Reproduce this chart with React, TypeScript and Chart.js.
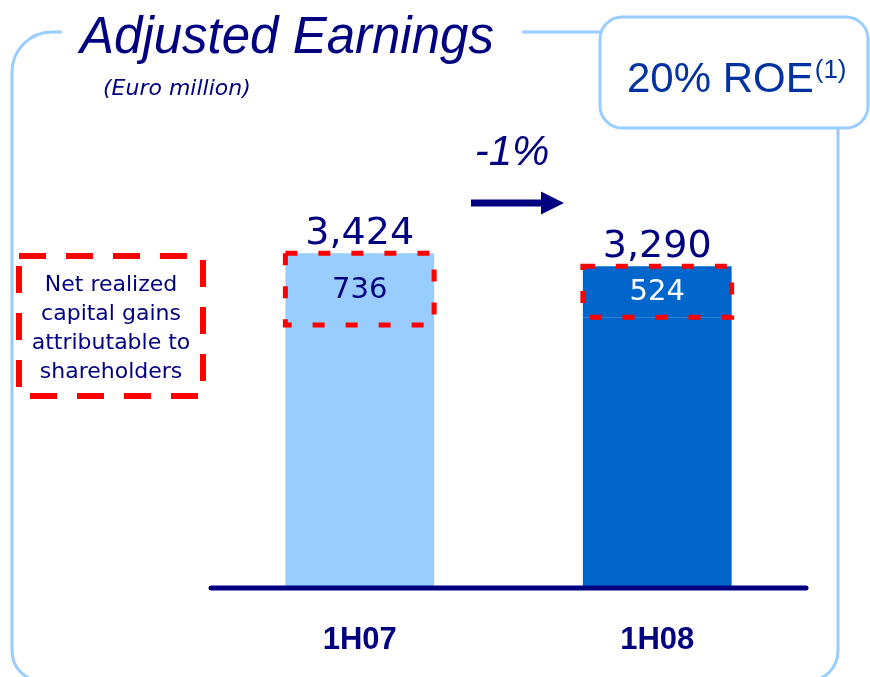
import React, { useEffect, useRef } from "react";
import { Chart, registerables } from "chart.js";

Chart.register(...registerables);

const categories = ["1H07", "1H08"];
const totals = [3424, 3290];
const capitalGains = [736, 524];
const coreEarnings = totals.map((t, i) => t - capitalGains[i]);
const barColors = ["#99ccff", "#0066cc"];
const gainLabelColors = ["#000080", "#ffffff"];
const totalLabels = ["3,424", "3,290"];
const gainLabels = ["736", "524"];
const titleText = "Adjusted Earnings";
const subtitleText = "(Euro million)";
const changeText = "-1%";
const roeText = "20% ROE";
const roeNote = "(1)";
const legendLines = ["Net realized", "capital gains", "attributable to", "shareholders"];

const NAVY = "#000080";
const LIGHT = "#99ccff";
const RED = "#ff0000";

function roundRect(ctx: CanvasRenderingContext2D, x: number, y: number, w: number, h: number, r: number) {
  ctx.beginPath();
  ctx.moveTo(x + r, y);
  ctx.lineTo(x + w - r, y);
  ctx.arcTo(x + w, y, x + w, y + r, r);
  ctx.lineTo(x + w, y + h - r);
  ctx.arcTo(x + w, y + h, x + w - r, y + h, r);
  ctx.lineTo(x + r, y + h);
  ctx.arcTo(x, y + h, x, y + h - r, r);
  ctx.lineTo(x, y + r);
  ctx.arcTo(x, y, x + r, y, r);
  ctx.closePath();
}

const decoPlugin = {
  id: "deco",
  beforeDraw(chart: any) {
    const ctx: CanvasRenderingContext2D = chart.ctx;
    ctx.save();
    ctx.fillStyle = "#ffffff";
    ctx.fillRect(0, 0, chart.width, chart.height);

    // outer frame
    ctx.strokeStyle = LIGHT;
    ctx.lineWidth = 3;
    const L = 12, T = 32, R = 838, B = 681, r = 40, rb = 30;
    ctx.beginPath();
    ctx.moveTo(62, T);
    ctx.lineTo(L + r, T);
    ctx.arcTo(L, T, L, T + r, r);
    ctx.lineTo(L, B - rb);
    ctx.arcTo(L, B, L + rb, B, rb);
    ctx.lineTo(R - rb, B);
    ctx.arcTo(R, B, R, B - rb, rb);
    ctx.lineTo(R, 128);
    ctx.stroke();
    ctx.beginPath();
    ctx.moveTo(522, T);
    ctx.lineTo(600, T);
    ctx.stroke();

    // ROE box
    roundRect(ctx, 600, 17, 268, 111, 22);
    ctx.fillStyle = "#ffffff";
    ctx.fill();
    ctx.stroke();
    ctx.fillStyle = "#0033a0";
    ctx.textBaseline = "alphabetic";
    ctx.textAlign = "left";
    ctx.font = '42px "Liberation Sans", Arial, sans-serif';
    ctx.fillText(roeText, 627, 92);
    const rw = ctx.measureText(roeText).width;
    ctx.font = '26px "Liberation Sans", Arial, sans-serif';
    ctx.fillText(roeNote, 627 + rw + 1, 78);

    // title
    ctx.fillStyle = NAVY;
    ctx.font = 'italic 51px "Liberation Sans", Arial, sans-serif';
    ctx.fillText(titleText, 80, 53);
    ctx.font = 'italic 22px "DejaVu Sans", sans-serif';
    ctx.fillText(subtitleText, 103, 95);

    // change label and arrow
    ctx.font = 'italic 42px "Liberation Sans", Arial, sans-serif';
    ctx.textAlign = "center";
    ctx.fillText(changeText, 512, 165);
    ctx.beginPath();
    ctx.moveTo(471, 199.5);
    ctx.lineTo(541, 199.5);
    ctx.lineTo(541, 191.5);
    ctx.lineTo(564, 203);
    ctx.lineTo(541, 214.5);
    ctx.lineTo(541, 206.5);
    ctx.lineTo(471, 206.5);
    ctx.closePath();
    ctx.fill();

    // legend box
    ctx.strokeStyle = RED;
    ctx.lineWidth = 6;
    ctx.setLineDash([27, 20]);
    ctx.strokeRect(19, 256, 184, 140);
    ctx.setLineDash([]);
    ctx.fillStyle = NAVY;
    ctx.font = '22px "DejaVu Sans", sans-serif';
    ctx.textAlign = "center";
    legendLines.forEach((line, i) => {
      ctx.fillText(line, 111, 291 + i * 29);
    });
    ctx.restore();
  },
  afterDatasetsDraw(chart: any) {
    const ctx: CanvasRenderingContext2D = chart.ctx;
    const xs = chart.scales.x;
    const ys = chart.scales.y;
    const topMeta = chart.getDatasetMeta(1);
    ctx.save();
    topMeta.data.forEach((el: any, i: number) => {
      const p = el.getProps(["x", "y", "base", "width"], true);
      const left = p.x - p.width / 2;
      // dashed box
      ctx.strokeStyle = RED;
      ctx.lineWidth = 5;
      ctx.setLineDash([12, 21]);
      ctx.strokeRect(left, p.y, p.width, p.base - p.y);
      ctx.setLineDash([]);
      // gain label
      ctx.fillStyle = gainLabelColors[i];
      ctx.font = '29px "DejaVu Sans", sans-serif';
      ctx.textAlign = "center";
      ctx.textBaseline = "middle";
      ctx.fillText(gainLabels[i], p.x, (p.y + p.base) / 2 + 1);
      // total label
      ctx.fillStyle = NAVY;
      ctx.font = '38px "DejaVu Sans", sans-serif';
      ctx.textBaseline = "alphabetic";
      ctx.fillText(totalLabels[i], p.x, p.y - 9);
    });
    // baseline
    const y0 = ys.getPixelForValue(0);
    ctx.strokeStyle = NAVY;
    ctx.lineWidth = 5;
    ctx.lineCap = "round";
    ctx.beginPath();
    ctx.moveTo(chart.chartArea.left, y0 + 1);
    ctx.lineTo(chart.chartArea.right, y0 + 1);
    ctx.stroke();
    // category labels
    ctx.fillStyle = NAVY;
    ctx.font = 'bold 31px "Liberation Sans", Arial, sans-serif';
    ctx.textAlign = "center";
    ctx.textBaseline = "alphabetic";
    categories.forEach((c, i) => {
      ctx.fillText(c, xs.getPixelForValue(i), y0 + 62);
    });
    ctx.restore();
  },
};

export default function App() {
  const ref = useRef<HTMLCanvasElement | null>(null);
  useEffect(() => {
    if (!ref.current) return;
    const chart = new Chart(ref.current, {
      type: "bar",
      data: {
        labels: categories,
        datasets: [
          {
            label: "Core",
            data: coreEarnings,
            backgroundColor: barColors,
            borderWidth: 0,
            categoryPercentage: 1,
            barPercentage: 0.5,
          },
          {
            label: "Net realized capital gains",
            data: capitalGains,
            backgroundColor: barColors,
            borderWidth: 0,
            categoryPercentage: 1,
            barPercentage: 0.5,
          },
        ],
      },
      options: {
        responsive: false,
        animation: false,
        layout: { padding: { left: 211, right: 64, top: 80, bottom: 90 } },
        plugins: { legend: { display: false }, tooltip: { enabled: false }, title: { display: false } },
        scales: {
          x: { stacked: true, display: false },
          y: { stacked: true, display: false, min: 0, max: 5200 },
        },
      },
      plugins: [decoPlugin],
    });
    return () => chart.destroy();
  }, []);
  return (
    <div style={{ position: "fixed", left: 0, top: 0, width: 870, height: 677, background: "#fff" }}>
      <canvas ref={ref} width={870} height={677} style={{ display: "block" }} />
    </div>
  );
}
